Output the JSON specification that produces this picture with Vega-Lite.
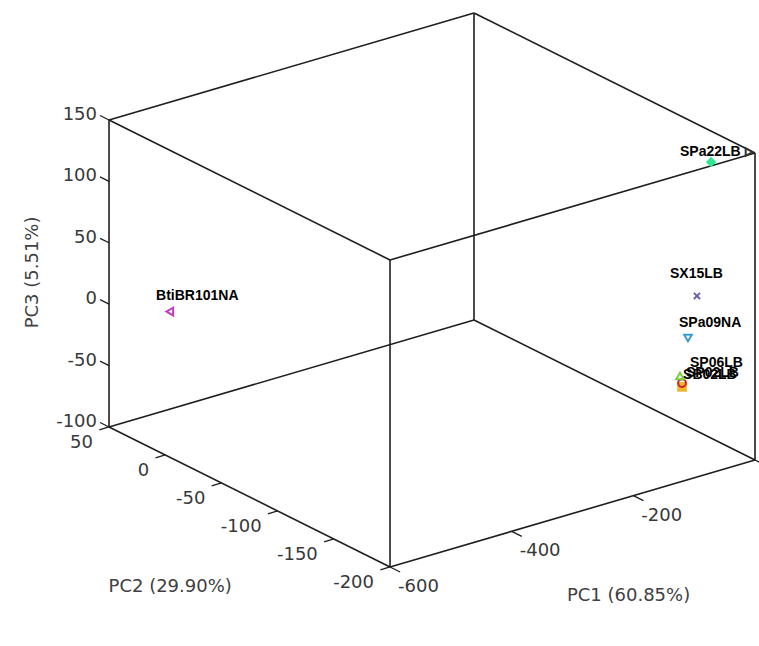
{
  "$schema": "https://vega.github.io/schema/vega-lite/v6.json",
  "width": 759,
  "height": 646,
  "autosize": {"type": "none"},
  "padding": 0,
  "background": "white",
  "config": {"view": {"stroke": null}},
  "datasets": {
    "edges": [
      {"p1": -600, "p2": -200, "p3": -100, "q1": 0, "q2": -200, "q3": -100},
      {"p1": -600, "p2": 50, "p3": -100, "q1": 0, "q2": 50, "q3": -100},
      {"p1": -600, "p2": -200, "p3": 150, "q1": 0, "q2": -200, "q3": 150},
      {"p1": -600, "p2": 50, "p3": 150, "q1": 0, "q2": 50, "q3": 150},
      {"p1": -600, "p2": -200, "p3": -100, "q1": -600, "q2": 50, "q3": -100},
      {"p1": 0, "p2": -200, "p3": -100, "q1": 0, "q2": 50, "q3": -100},
      {"p1": -600, "p2": -200, "p3": 150, "q1": -600, "q2": 50, "q3": 150},
      {"p1": 0, "p2": -200, "p3": 150, "q1": 0, "q2": 50, "q3": 150},
      {"p1": -600, "p2": -200, "p3": -100, "q1": -600, "q2": -200, "q3": 150},
      {"p1": 0, "p2": -200, "p3": -100, "q1": 0, "q2": -200, "q3": 150},
      {"p1": -600, "p2": 50, "p3": -100, "q1": -600, "q2": 50, "q3": 150},
      {"p1": 0, "p2": 50, "p3": -100, "q1": 0, "q2": 50, "q3": 150}
    ],
    "ticks": [
      {"axis": "PC3", "label": "150", "PC1": -600, "PC2": 50, "PC3": 150},
      {"axis": "PC3", "label": "100", "PC1": -600, "PC2": 50, "PC3": 100},
      {"axis": "PC3", "label": "50", "PC1": -600, "PC2": 50, "PC3": 50},
      {"axis": "PC3", "label": "0", "PC1": -600, "PC2": 50, "PC3": 0},
      {"axis": "PC3", "label": "-50", "PC1": -600, "PC2": 50, "PC3": -50},
      {"axis": "PC3", "label": "-100", "PC1": -600, "PC2": 50, "PC3": -100},
      {"axis": "PC2", "label": "50", "PC1": -600, "PC2": 50, "PC3": -100},
      {"axis": "PC2", "label": "0", "PC1": -600, "PC2": 0, "PC3": -100},
      {"axis": "PC2", "label": "-50", "PC1": -600, "PC2": -50, "PC3": -100},
      {"axis": "PC2", "label": "-100", "PC1": -600, "PC2": -100, "PC3": -100},
      {"axis": "PC2", "label": "-150", "PC1": -600, "PC2": -150, "PC3": -100},
      {"axis": "PC2", "label": "-200", "PC1": -600, "PC2": -200, "PC3": -100},
      {"axis": "PC1", "label": "-600", "PC1": -600, "PC2": -200, "PC3": -100},
      {"axis": "PC1", "label": "-400", "PC1": -400, "PC2": -200, "PC3": -100},
      {"axis": "PC1", "label": "-200", "PC1": -200, "PC2": -200, "PC3": -100},
      {"axis": "PC1", "label": "0", "PC1": 0, "PC2": -200, "PC3": -100}
    ],
    "titles": [
      {"title": "PC1 (60.85%)", "PC1": -413, "PC2": -311, "PC3": -100},
      {"title": "PC2 (29.90%)", "PC1": -869, "PC2": -150, "PC3": -100},
      {"title": "PC3 (5.51%)", "PC1": -725, "PC2": 50, "PC3": 44}
    ],
    "samples": [
      {"sample": "BtiBR101NA", "PC1": -550, "PC2": 23, "PC3": -1},
      {"sample": "SP10LB", "PC1": 0, "PC2": -194.7, "PC3": 148.4},
      {"sample": "SPa22LB", "PC1": -20, "PC2": -171.7, "PC3": 132.6},
      {"sample": "SX15LB", "PC1": -20, "PC2": -159.2, "PC3": 17.9},
      {"sample": "SPa09NA", "PC1": -20, "PC2": -151.2, "PC3": -20},
      {"sample": "SB02LB", "PC1": -20, "PC2": -145.9, "PC3": -62.3},
      {"sample": "SP02LB", "PC1": -20, "PC2": -145.9, "PC3": -59.1},
      {"sample": "SP06LB", "PC1": -20, "PC2": -144.1, "PC3": -54.2}
    ],
    "labels": [
      {"text": "BtiBR101NA", "PC1": -550, "PC2": 35.2, "PC3": 2.9},
      {"text": "SPa22LB", "PC1": -20, "PC2": -144.1, "PC3": 125},
      {"text": "SX15LB", "PC1": -20, "PC2": -135.2, "PC3": 21.6},
      {"text": "SPa09NA", "PC1": -20, "PC2": -143.2, "PC3": -14.7},
      {"text": "SB02LB", "PC1": -20, "PC2": -146.8, "PC3": -55.4},
      {"text": "SP02LB", "PC1": -20, "PC2": -149.4, "PC3": -52.6},
      {"text": "SP06LB", "PC1": -20, "PC2": -153, "PC3": -42.8}
    ]
  },
  "layer": [
    {
      "data": {"name": "edges"},
      "transform": [
        {"calculate": "530.2 + 0.6083*datum.p1 - 1.124*datum.p2", "as": "sx"},
        {"calculate": "225.2 - 0.1783*datum.p1 - 0.56*datum.p2 - 1.228*datum.p3", "as": "sy"},
        {"calculate": "530.2 + 0.6083*datum.q1 - 1.124*datum.q2", "as": "sx2"},
        {"calculate": "225.2 - 0.1783*datum.q1 - 0.56*datum.q2 - 1.228*datum.q3", "as": "sy2"}
      ],
      "mark": {"type": "rule", "color": "#1e1e1e", "strokeWidth": 1.6},
      "encoding": {
        "x": {"field": "sx", "type": "quantitative", "scale": {"domain": [0, 759], "nice": false, "zero": false}, "axis": null},
        "y": {"field": "sy", "type": "quantitative", "scale": {"domain": [0, 646], "nice": false, "zero": false, "reverse": true}, "axis": null},
        "x2": {"field": "sx2"},
        "y2": {"field": "sy2"}
      }
    },
    {
      "data": {"name": "ticks"},
      "transform": [
        {"calculate": "datum.PC1 - (datum.axis == 'PC2' ? 16 : 0)", "as": "e1"},
        {"calculate": "datum.PC2 + (datum.axis == 'PC3' ? 8 : 0) - (datum.axis == 'PC1' ? 9 : 0)", "as": "e2"},
        {"calculate": "530.2 + 0.6083*datum.PC1 - 1.124*datum.PC2", "as": "sx"},
        {"calculate": "225.2 - 0.1783*datum.PC1 - 0.56*datum.PC2 - 1.228*datum.PC3", "as": "sy"},
        {"calculate": "530.2 + 0.6083*datum.e1 - 1.124*datum.e2", "as": "sx2"},
        {"calculate": "225.2 - 0.1783*datum.e1 - 0.56*datum.e2 - 1.228*datum.PC3", "as": "sy2"}
      ],
      "mark": {"type": "rule", "color": "#1e1e1e", "strokeWidth": 1.3},
      "encoding": {
        "x": {"field": "sx", "type": "quantitative", "axis": null},
        "y": {"field": "sy", "type": "quantitative", "axis": null},
        "x2": {"field": "sx2"},
        "y2": {"field": "sy2"}
      }
    },
    {
      "data": {"name": "ticks"},
      "transform": [
        {"filter": "datum.axis == 'PC3'"},
        {"calculate": "530.2 + 0.6083*datum.PC1 - 1.124*datum.PC2", "as": "sx"},
        {"calculate": "225.2 - 0.1783*datum.PC1 - 0.56*datum.PC2 - 1.228*datum.PC3", "as": "sy"}
      ],
      "mark": {"type": "text", "align": "right", "baseline": "middle", "dx": -12, "dy": -5, "font": "DejaVu Sans", "fontSize": 18, "color": "#383838"},
      "encoding": {
        "x": {"field": "sx", "type": "quantitative", "axis": null},
        "y": {"field": "sy", "type": "quantitative", "axis": null},
        "text": {"field": "label"}
      }
    },
    {
      "data": {"name": "ticks"},
      "transform": [
        {"filter": "datum.axis == 'PC2'"},
        {"calculate": "530.2 + 0.6083*datum.PC1 - 1.124*datum.PC2", "as": "sx"},
        {"calculate": "225.2 - 0.1783*datum.PC1 - 0.56*datum.PC2 - 1.228*datum.PC3", "as": "sy"}
      ],
      "mark": {"type": "text", "align": "right", "baseline": "middle", "dx": -16, "dy": 16, "font": "DejaVu Sans", "fontSize": 18, "color": "#383838"},
      "encoding": {
        "x": {"field": "sx", "type": "quantitative", "axis": null},
        "y": {"field": "sy", "type": "quantitative", "axis": null},
        "text": {"field": "label"}
      }
    },
    {
      "data": {"name": "ticks"},
      "transform": [
        {"filter": "datum.axis == 'PC1'"},
        {"calculate": "530.2 + 0.6083*datum.PC1 - 1.124*datum.PC2", "as": "sx"},
        {"calculate": "225.2 - 0.1783*datum.PC1 - 0.56*datum.PC2 - 1.228*datum.PC3", "as": "sy"}
      ],
      "mark": {"type": "text", "align": "left", "baseline": "middle", "dx": 8, "dy": 20, "font": "DejaVu Sans", "fontSize": 18, "color": "#383838"},
      "encoding": {
        "x": {"field": "sx", "type": "quantitative", "axis": null},
        "y": {"field": "sy", "type": "quantitative", "axis": null},
        "text": {"field": "label"}
      }
    },
    {
      "data": {"name": "titles"},
      "transform": [
        {"filter": "datum.title != 'PC3 (5.51%)'"},
        {"calculate": "530.2 + 0.6083*datum.PC1 - 1.124*datum.PC2", "as": "sx"},
        {"calculate": "225.2 - 0.1783*datum.PC1 - 0.56*datum.PC2 - 1.228*datum.PC3", "as": "sy"}
      ],
      "mark": {"type": "text", "align": "center", "baseline": "middle", "font": "DejaVu Sans", "fontSize": 18, "color": "#404040"},
      "encoding": {
        "x": {"field": "sx", "type": "quantitative", "axis": null},
        "y": {"field": "sy", "type": "quantitative", "axis": null},
        "text": {"field": "title"}
      }
    },
    {
      "data": {"name": "titles"},
      "transform": [
        {"filter": "datum.title == 'PC3 (5.51%)'"},
        {"calculate": "530.2 + 0.6083*datum.PC1 - 1.124*datum.PC2", "as": "sx"},
        {"calculate": "225.2 - 0.1783*datum.PC1 - 0.56*datum.PC2 - 1.228*datum.PC3", "as": "sy"}
      ],
      "mark": {"type": "text", "align": "center", "baseline": "middle", "angle": 270, "font": "DejaVu Sans", "fontSize": 18, "color": "#404040"},
      "encoding": {
        "x": {"field": "sx", "type": "quantitative", "axis": null},
        "y": {"field": "sy", "type": "quantitative", "axis": null},
        "text": {"field": "title"}
      }
    },
    {
      "data": {"name": "samples"},
      "transform": [
        {"calculate": "530.2 + 0.6083*datum.PC1 - 1.124*datum.PC2", "as": "sx"},
        {"calculate": "225.2 - 0.1783*datum.PC1 - 0.56*datum.PC2 - 1.228*datum.PC3", "as": "sy"}
      ],
      "mark": {"type": "point", "strokeWidth": 2, "opacity": 1, "size": 60},
      "encoding": {
        "x": {"field": "sx", "type": "quantitative", "axis": null},
        "y": {"field": "sy", "type": "quantitative", "axis": null},
        "shape": {"field": "sample", "type": "nominal", "legend": null,
          "scale": {"domain": ["BtiBR101NA", "SP10LB", "SPa22LB", "SX15LB", "SPa09NA", "SB02LB", "SP02LB", "SP06LB"],
                    "range": ["triangle-left", "triangle-right", "diamond", "M-0.8,-0.8L0.8,0.8M-0.8,0.8L0.8,-0.8", "triangle-down", "square", "circle", "triangle-up"]}},
        "stroke": {"field": "sample", "type": "nominal", "legend": null,
          "scale": {"domain": ["BtiBR101NA", "SP10LB", "SPa22LB", "SX15LB", "SPa09NA", "SB02LB", "SP02LB", "SP06LB"],
                    "range": ["#c03cc0", "#333333", "#2ee890", "#6a63b0", "#3b9bd0", "#f0b830", "#d02020", "#7acc40"]}},
        "fill": {"field": "sample", "type": "nominal", "legend": null,
          "scale": {"domain": ["BtiBR101NA", "SP10LB", "SPa22LB", "SX15LB", "SPa09NA", "SB02LB", "SP02LB", "SP06LB"],
                    "range": ["transparent", "transparent", "#2ee890", "transparent", "transparent", "#f0b830", "transparent", "transparent"]}}
      }
    },
    {
      "data": {"name": "labels"},
      "transform": [
        {"calculate": "530.2 + 0.6083*datum.PC1 - 1.124*datum.PC2", "as": "sx"},
        {"calculate": "225.2 - 0.1783*datum.PC1 - 0.56*datum.PC2 - 1.228*datum.PC3", "as": "sy"}
      ],
      "mark": {"type": "text", "align": "left", "baseline": "alphabetic", "font": "Liberation Sans", "fontWeight": "bold", "fontSize": 14, "color": "#000000"},
      "encoding": {
        "x": {"field": "sx", "type": "quantitative", "axis": null},
        "y": {"field": "sy", "type": "quantitative", "axis": null},
        "text": {"field": "text"}
      }
    }
  ]
}
